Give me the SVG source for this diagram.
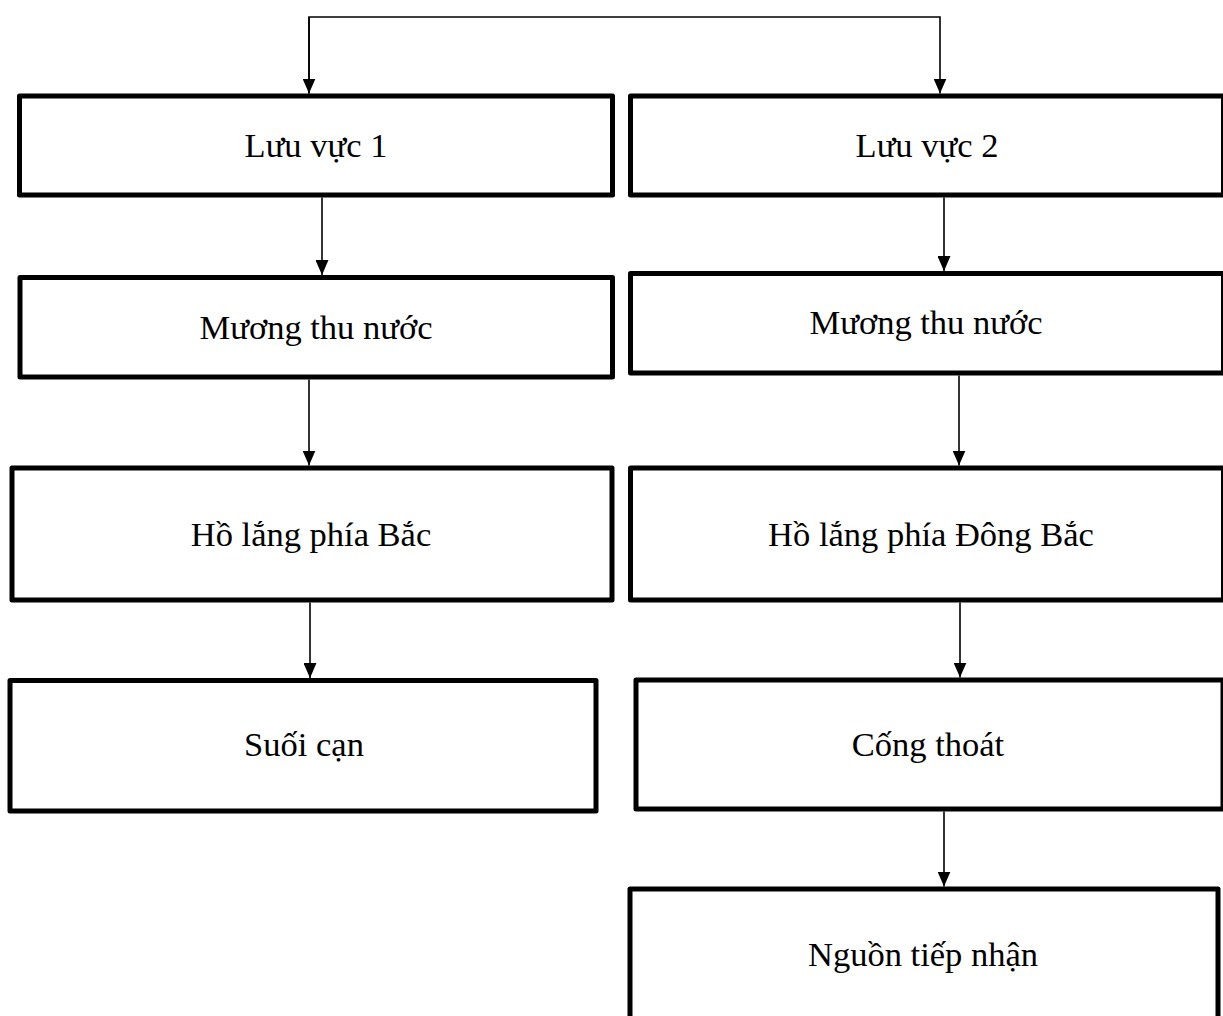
<svg xmlns="http://www.w3.org/2000/svg" width="1223" height="1016" viewBox="0 0 1223 1016">
<style>
.box{fill:#fff;stroke:#000;stroke-width:5;stroke-linejoin:round}
.lbl{font-family:"Liberation Serif","Times New Roman",serif;font-size:34.5px;fill:#000;text-anchor:middle}
.con{fill:none;stroke:#000;stroke-width:1.6}
</style>
<defs>
<marker id="ah" markerWidth="15" markerHeight="13" refX="15" refY="6.5" orient="auto" markerUnits="userSpaceOnUse" viewBox="0 0 15 13">
<path d="M0,0 L15,6.5 L0,13 Z" fill="#000"/>
</marker>
</defs>
<rect width="1223" height="1016" fill="#fff"/>
<g id="n1"><rect class="box" x="19.5" y="96" width="593" height="99"/><text class="lbl" x="316" y="157">Lưu vực 1</text></g>
<g id="n2"><rect class="box" x="630.5" y="96" width="593" height="99"/><text class="lbl" x="927" y="157">Lưu vực 2</text></g>
<g id="n3"><rect class="box" x="20" y="277.5" width="592.5" height="99.5"/><text class="lbl" x="316" y="339">Mương thu nước</text></g>
<g id="n4"><rect class="box" x="630.5" y="273.5" width="593" height="99.5"/><text class="lbl" x="926" y="334">Mương thu nước</text></g>
<g id="n5"><rect class="box" x="12" y="468" width="600" height="132"/><text class="lbl" x="311" y="546">Hồ lắng phía Bắc</text></g>
<g id="n6"><rect class="box" x="630.5" y="468" width="593" height="132"/><text class="lbl" x="931" y="546">Hồ lắng phía Đông Bắc</text></g>
<g id="n7"><rect class="box" x="10" y="680.5" width="586" height="130.5"/><text class="lbl" x="304" y="756">Suối cạn</text></g>
<g id="n8"><rect class="box" x="636" y="680" width="587" height="129"/><text class="lbl" x="928" y="756">Cống thoát</text></g>
<g id="n9"><rect class="box" x="630" y="889" width="588" height="140"/><text class="lbl" x="923" y="966">Nguồn tiếp nhận</text></g>
<g id="connectors">
<path class="con" d="M309,93.5 V17 H940 V93.5" stroke-linejoin="miter" marker-end="url(#ah)"/>
<line class="con" x1="309" y1="17" x2="309" y2="93.5" marker-end="url(#ah)"/>
<line class="con" x1="322" y1="197.5" x2="322" y2="275" marker-end="url(#ah)"/>
<line class="con" x1="944" y1="197.5" x2="944" y2="271" marker-end="url(#ah)"/>
<line class="con" x1="309" y1="379.5" x2="309" y2="465.5" marker-end="url(#ah)"/>
<line class="con" x1="959" y1="375.5" x2="959" y2="465.5" marker-end="url(#ah)"/>
<line class="con" x1="310" y1="602.5" x2="310" y2="678" marker-end="url(#ah)"/>
<line class="con" x1="960" y1="602.5" x2="960" y2="677.5" marker-end="url(#ah)"/>
<line class="con" x1="944" y1="811.5" x2="944" y2="886.5" marker-end="url(#ah)"/>
</g>
</svg>
